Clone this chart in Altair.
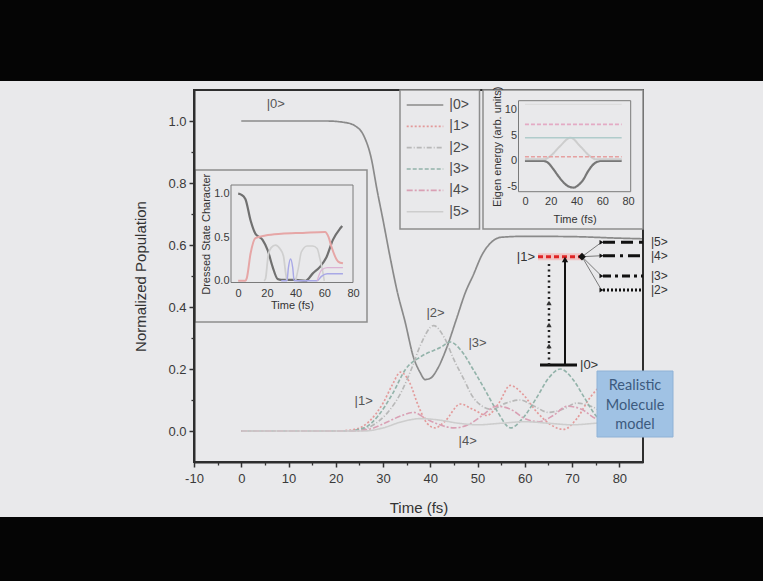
import altair as alt
import pandas as pd

W, H = 763, 581
BG = "#e9e9eb"
FONT = "Liberation Sans"

# ---------------- main chart data ----------------
STATES = ["|0>", "|1>", "|2>", "|3>", "|4>", "|5>"]
STATE_COLORS = ["#8a8a8a", "#e39a9a", "#b8b8b8", "#93b3aa", "#d9a0b4", "#cdcdcd"]
STATE_DASH = [[1, 0], [2, 2], [5, 2, 1, 2], [4, 2], [6, 2, 2, 2], [1, 0]]
STATE_WIDTH = [1.7, 1.6, 1.3, 1.5, 1.3, 1.2]

T0 = [0, 18, 22, 24, 26, 27.5, 28.7, 30, 31.5, 33, 34.7, 36.4, 37.8, 38.9, 40, 41.5, 43.5, 45.5, 47.5, 49, 51, 53, 55, 60, 70, 80, 85]
P0 = [1.0, 1.0, 0.995, 0.985, 0.95, 0.88, 0.78, 0.68, 0.56, 0.45, 0.35, 0.24, 0.19, 0.166, 0.17, 0.2, 0.27, 0.36, 0.45, 0.5, 0.57, 0.61, 0.625, 0.628, 0.627, 0.622, 0.62]

T1 = [0, 20, 24, 27, 30, 32, 33.7, 35.5, 37.5, 39.3, 41, 43, 46.4, 49, 52, 54.5, 56.9, 59.5, 62.6, 65.5, 68.2, 71, 73.9, 77, 80]
P1 = [0, 0, 0.005, 0.03, 0.09, 0.15, 0.19, 0.16, 0.08, 0.025, 0.01, 0.03, 0.087, 0.07, 0.05, 0.09, 0.147, 0.12, 0.06, 0.02, 0.005, 0.04, 0.11, 0.15, 0.13]

T2 = [0, 24, 28, 31, 34, 36, 38, 40.7, 43, 45, 47, 49, 51, 53, 56, 59, 62, 65, 68, 71, 74, 77, 80]
P2 = [0, 0, 0.02, 0.06, 0.13, 0.2, 0.28, 0.34, 0.3, 0.23, 0.17, 0.11, 0.08, 0.07, 0.09, 0.1, 0.08, 0.06, 0.07, 0.09, 0.08, 0.06, 0.06]

T3 = [0, 22, 26, 29, 32, 34.8, 38, 42.2, 44.2, 46.5, 49, 51.3, 54.1, 57, 59.5, 62.6, 65, 67.5, 70, 72.5, 75, 78, 80]
P3 = [0, 0, 0.01, 0.05, 0.12, 0.2, 0.24, 0.27, 0.287, 0.26, 0.2, 0.14, 0.065, 0.01, 0.04, 0.11, 0.17, 0.2, 0.17, 0.11, 0.05, 0.02, 0.03]

T4 = [0, 24, 28, 31, 34, 36.5, 39, 42, 45, 48, 51, 54, 57, 60, 63, 66, 69, 72, 75, 78, 80]
P4 = [0, 0, 0.01, 0.03, 0.05, 0.06, 0.04, 0.02, 0.01, 0.02, 0.05, 0.08, 0.07, 0.04, 0.03, 0.05, 0.08, 0.07, 0.04, 0.03, 0.04]

T5 = [0, 26, 30, 34, 38, 42, 46, 50, 55, 60, 65, 70, 75, 80]
P5 = [0, 0, 0.01, 0.03, 0.04, 0.035, 0.025, 0.02, 0.025, 0.03, 0.025, 0.02, 0.025, 0.03]

MAIN_LABELS = ["|0>", "|1>", "|2>", "|3>", "|4>"]
MAIN_LABEL_T = [7.3, 25.9, 41.1, 50.0, 47.9]
MAIN_LABEL_P = [1.054, 0.098, 0.38, 0.285, -0.032]

# ---------------- inset 1: dressed state character ----------------
DS_SERIES = ["d0", "d1", "d2", "d3", "d4", "d5"]
DS_COLORS = ["#707070", "#e6a6a6", "#cfcfcf", "#cfcfcf", "#a8a8e6", "#dbb2d4"]
DS_WIDTH = [2.2, 1.2, 1.2, 1.2, 1.2, 1.0]
DS_T = [
    [0, 2, 5, 8.7, 12, 17, 20.6, 24, 27.5, 30, 40, 47, 52, 57, 61.5, 66, 71, 72.5],
    [0, 5, 6, 8.6, 12, 19, 30, 45, 60.5, 63, 65, 69.7, 73],
    [18, 19, 21, 23, 26, 29, 31.6, 33, 34],
    [40, 42, 44, 48, 52, 55, 57, 59, 60],
    [30, 34, 35, 36.5, 38, 39, 55, 58, 62, 73],
    [55, 58, 62, 73],
]
DS_V = [
    [1.0, 0.99, 0.94, 0.69, 0.54, 0.47, 0.35, 0.16, 0.02, 0.01, 0.01, 0.0, 0.085, 0.16, 0.27, 0.47, 0.6, 0.63],
    [0, 0, 0.03, 0.31, 0.49, 0.52, 0.54, 0.55, 0.56, 0.5, 0.39, 0.22, 0.2],
    [0, 0.02, 0.3, 0.38, 0.41, 0.37, 0.28, 0.1, 0],
    [0, 0.15, 0.33, 0.4, 0.4, 0.37, 0.25, 0.1, 0],
    [0, 0, 0.15, 0.25, 0.15, 0, 0, 0.05, 0.08, 0.08],
    [0, 0.12, 0.15, 0.15],
]

# ---------------- inset 2: eigen energy ----------------
EE_SERIES = ["e0", "e1", "e2", "e3", "e4", "e5"]
EE_COLORS = ["#777777", "#cdcdcd", "#e4aac4", "#b0cccb", "#e6a0a0", "#dddddd"]
EE_DASH = [[1, 0], [1, 0], [4, 2], [1, 0], [4, 2], [1, 0]]
EE_WIDTH = [2.2, 1.3, 1.2, 1.2, 1.2, 1.0]
EE_T = [
    [0, 14, 18, 22, 26, 29.9, 34, 37.7, 41, 45.4, 48.5, 51.9, 55.8, 60, 75],
    [0, 15, 20, 27, 35.4, 43, 50, 55, 75],
    [0, 75],
    [0, 75],
    [0, 75],
    [0, 75],
]
EE_V = [
    [0, 0, -0.4, -1.6, -3.0, -4.2, -5.0, -5.2, -4.8, -3.6, -2.2, -1.0, -0.2, 0, 0],
    [0.3, 0.3, 1.0, 2.8, 4.5, 2.8, 1.0, 0.3, 0.3],
    [7.1, 7.1],
    [4.5, 4.5],
    [0.8, 0.8],
    [11.0, 11.0],
]

# ---------------- level diagram ----------------
RIGHT_LEVELS = ["|5>", "|4>", "|3>", "|2>"]
RIGHT_E = [1.133, 1.009, 0.822, 0.692]
RIGHT_DASH = [[12, 6], [12, 5, 3, 5], [8, 4, 3, 4], [2, 2]]
PUMP_STEPS = [0.175, 0.369, 0.573]
BOX_LINES = ["Realistic", "Molecule", "model"]

# ---------------- layout (pixels) ----------------
MAIN_BOX = (194, 643, 90, 462)
DS_BOX = (195, 367, 170, 322)
DS_FRAME = (231, 353, 185, 282.5)
LEG_BOX = (400, 479.5, 90, 229)
EE_BOX = (483, 643, 90, 229)
EE_FRAME = (518.5, 630.7, 100.7, 191.7)
BLUE_BOX = (597, 673, 371, 437)
BLUE_TEXT_Y = [386, 405.5, 425]

ONE = pd.DataFrame({"k": [0]})


def rect(box, **style):
    x0, x1, y0, y1 = box
    return alt.Chart(ONE).mark_rect(**style).encode(
        x=alt.value(x0), x2=alt.value(x1), y=alt.value(y0), y2=alt.value(y1))


def long_df(names, ts, vs):
    rows = []
    for n, tt, vv in zip(names, ts, vs):
        for t, v in zip(tt, vv):
            rows.append({"s": n, "t": t, "v": v})
    return pd.DataFrame(rows)


AX = dict(labelFont=FONT, titleFont=FONT, labelColor="#3a3a3a", titleColor="#333333",
          titleFontWeight="normal", grid=False, zindex=1, labelFlush=False, labelOverlap=False)
NEG = "datum.value < 0 ? '-' + abs(datum.value) : '' + datum.value"

# ---------- background bars ----------
bars = alt.layer(
    rect((0, W, 0, 81), fill="#050505"),
    rect((0, W, 517, H), fill="#050505"),
)

# ---------- main panel ----------
mx = alt.Scale(domain=[-10, 85], range=[MAIN_BOX[0], MAIN_BOX[1]], nice=False, zero=False)
my = alt.Scale(domain=[-0.1, 1.1], range=[MAIN_BOX[3], MAIN_BOX[2]], nice=False, zero=False)
color_s = alt.Scale(domain=STATES, range=STATE_COLORS)
dash_s = alt.Scale(domain=STATES, range=STATE_DASH)
width_s = alt.Scale(domain=STATES, range=STATE_WIDTH)

main_df = long_df(STATES, [T0, T1, T2, T3, T4, T5], [P0, P1, P2, P3, P4, P5])

ax_mx = alt.Axis(orient="bottom", offset=MAIN_BOX[3] - H, values=list(range(-10, 90, 10)),
                 labelExpr=NEG, tickSize=5, tickWidth=1.5, tickColor="#333333",
                 domainColor="#2e2e2e", domainWidth=2, labelFontSize=13, labelPadding=5,
                 title="Time (fs)", titleFontSize=15, titleBaseline="middle", titleY=45, **AX)
ax_my = alt.Axis(orient="left", offset=-MAIN_BOX[0], values=[0.0, 0.2, 0.4, 0.6, 0.8, 1.0],
                 format=".1f", tickSize=5, tickWidth=1.5, tickColor="#333333",
                 domainColor="#2e2e2e", domainWidth=2, labelFontSize=13, labelPadding=3,
                 title="Normalized Population", titleFontSize=15, titleBaseline="middle",
                 titleX=140 - MAIN_BOX[0], titleY=276, **AX)
main_lines = alt.Chart(main_df).mark_line(interpolate="monotone").encode(
    x=alt.X("t:Q", scale=mx, axis=ax_mx),
    y=alt.Y("v:Q", scale=my, axis=ax_my),
    color=alt.Color("s:N", scale=color_s, legend=None),
    strokeDash=alt.StrokeDash("s:N", scale=dash_s, legend=None),
    strokeWidth=alt.StrokeWidth("s:N", scale=width_s, legend=None),
)
main_frame = rect(MAIN_BOX, fill=BG, fillOpacity=0, stroke="#2e2e2e", strokeWidth=2)
lab_df = pd.DataFrame({"lab": MAIN_LABELS, "t": MAIN_LABEL_T, "v": MAIN_LABEL_P})
main_labels = alt.Chart(lab_df).mark_text(font=FONT, fontSize=13, color="#555555").encode(
    x=alt.X("t:Q", scale=mx, axis=None), y=alt.Y("v:Q", scale=my, axis=None), text="lab:N")

ax_minor_x = alt.Axis(orient="bottom", offset=MAIN_BOX[3] - H, values=list(range(-5, 80, 10)),
                      labels=False, tickSize=3, tickWidth=1.3, tickColor="#333333",
                      domain=False, title=None, grid=False, zindex=1)
ax_minor_y = alt.Axis(orient="left", offset=-MAIN_BOX[0], values=[0.1, 0.3, 0.5, 0.7, 0.9],
                      labels=False, tickSize=3, tickWidth=1.3, tickColor="#333333",
                      domain=False, title=None, grid=False, zindex=1)
minor = alt.Chart(main_df).mark_point(opacity=0).encode(
    x=alt.X("t:Q", scale=mx, axis=ax_minor_x), y=alt.Y("v:Q", scale=my, axis=ax_minor_y))

# ---------- inset 1 ----------
dsx = alt.Scale(domain=[-5, 80], range=[DS_FRAME[0], DS_FRAME[1]], nice=False, zero=False)
dsy = alt.Scale(domain=[-0.02, 1.1], range=[DS_FRAME[3], DS_FRAME[2]], nice=False, zero=False)
ds_df = long_df(DS_SERIES, DS_T, DS_V)
ax_dsx = alt.Axis(orient="bottom", offset=DS_FRAME[3] - H, values=[0, 20, 40, 60, 80], ticks=False,
                  domain=False, labelFontSize=11, labelPadding=5, title="Time (fs)", titleFontSize=11,
                  titleBaseline="middle", titleY=23, **AX)
ax_dsy = alt.Axis(orient="left", offset=-DS_FRAME[0], values=[0.0, 0.5, 1.0], format=".1f", ticks=False,
                  domain=False, labelFontSize=11, labelPadding=2, title="Dressed State Character",
                  titleFontSize=11, titleBaseline="middle", titleX=206.5 - DS_FRAME[0],
                  titleY=(DS_FRAME[2] + DS_FRAME[3]) / 2, **AX)
ds_lines = alt.Chart(ds_df).mark_line(interpolate="monotone").encode(
    x=alt.X("t:Q", scale=dsx, axis=ax_dsx),
    y=alt.Y("v:Q", scale=dsy, axis=ax_dsy),
    color=alt.Color("s:N", scale=alt.Scale(domain=DS_SERIES, range=DS_COLORS), legend=None),
    strokeWidth=alt.StrokeWidth("s:N", scale=alt.Scale(domain=DS_SERIES, range=DS_WIDTH), legend=None),
)
ds_panel = alt.layer(
    rect(DS_BOX, fill=BG, stroke="#8d8d8d", strokeWidth=1.5),
    rect(DS_FRAME, fill=BG, fillOpacity=0, stroke="#7a7a7a", strokeWidth=1),
    ds_lines,
)

# ---------- legend ----------
leg_y = alt.Scale(type="point", domain=STATES, range=[105, 211.7], padding=0)
leg_df = pd.DataFrame({"s": STATES})
leg_lines = alt.Chart(leg_df).mark_rule().encode(
    x=alt.value(406.7), x2=alt.value(443.3),
    y=alt.Y("s:N", scale=leg_y, axis=None),
    color=alt.Color("s:N", scale=color_s, legend=None),
    strokeDash=alt.StrokeDash("s:N", scale=dash_s, legend=None),
    strokeWidth=alt.StrokeWidth("s:N", scale=width_s, legend=None),
)
leg_text = alt.Chart(leg_df).mark_text(font=FONT, fontSize=14, color="#4a4a4a", align="left",
                                       baseline="middle").encode(
    x=alt.value(449.3), y=alt.Y("s:N", scale=leg_y, axis=None), text="s:N")
legend_box = rect(LEG_BOX, fill=BG, stroke="#8d8d8d", strokeWidth=1.5)

# ---------- inset 2 ----------
eex = alt.Scale(domain=[-5, 82], range=[EE_FRAME[0], EE_FRAME[1]], nice=False, zero=False)
eey = alt.Scale(domain=[-6, 11.7], range=[EE_FRAME[3], EE_FRAME[2]], nice=False, zero=False)
ee_df = long_df(EE_SERIES, EE_T, EE_V)
ax_eex = alt.Axis(orient="bottom", offset=EE_FRAME[3] - H, values=[0, 20, 40, 60, 80], ticks=False,
                  domain=False, labelFontSize=11, labelPadding=4, title="Time (fs)", titleFontSize=11,
                  titleBaseline="middle", titleY=28, **AX)
ax_eey = alt.Axis(orient="left", offset=-EE_FRAME[0], values=[-5, 0, 5, 10], labelExpr=NEG, ticks=False,
                  domain=False, labelFontSize=11, labelPadding=2, title="Eigen energy (arb. units)",
                  titleFontSize=11, titleBaseline="middle", titleX=497 - EE_FRAME[0],
                  titleY=(EE_FRAME[2] + EE_FRAME[3]) / 2, **AX)
ee_lines = alt.Chart(ee_df).mark_line(interpolate="monotone").encode(
    x=alt.X("t:Q", scale=eex, axis=ax_eex),
    y=alt.Y("v:Q", scale=eey, axis=ax_eey),
    color=alt.Color("s:N", scale=alt.Scale(domain=EE_SERIES, range=EE_COLORS), legend=None),
    strokeDash=alt.StrokeDash("s:N", scale=alt.Scale(domain=EE_SERIES, range=EE_DASH), legend=None),
    strokeWidth=alt.StrokeWidth("s:N", scale=alt.Scale(domain=EE_SERIES, range=EE_WIDTH), legend=None),
)
ee_panel = alt.layer(
    rect(EE_BOX, fill=BG, stroke="#8d8d8d", strokeWidth=1.5),
    rect(EE_FRAME, fill=BG, fillOpacity=0, stroke="#7a7a7a", strokeWidth=1),
    ee_lines,
)

# ---------- level diagram ----------
gx = alt.Scale(domain=[0, 100], range=[540, 640], nice=False, zero=False)
gy = alt.Scale(domain=[0, 1], range=[365, 256.7], nice=False, zero=False)

ground_df = pd.DataFrame({"x0": [0], "x1": [37], "e": [0.0]})
exc_df = pd.DataFrame({"x0": [-2], "x1": [42], "e": [1.0]})
right_df = pd.DataFrame({"s": RIGHT_LEVELS, "e": RIGHT_E, "x0": 63, "x1": 103, "xa": 42, "ea": 1.0,
                         "xh": 61.5, "xl": 111})
solid_df = pd.DataFrame({"x": [25], "y0": [0.0], "y1": [0.975]})
dot_df = pd.DataFrame({"x": [9], "y0": [0.0], "y1": [0.965]})
steps_df = pd.DataFrame({"x": 9, "y": PUMP_STEPS})

enc_h = dict(x=alt.X("x0:Q", scale=gx, axis=None), x2="x1:Q", y=alt.Y("e:Q", scale=gy, axis=None))
ground = alt.Chart(ground_df).mark_rule(color="#111111", strokeWidth=3).encode(**enc_h)
exc_glow = alt.Chart(exc_df).mark_rule(color="#f2b4b4", strokeWidth=7, opacity=0.7).encode(**enc_h)
exc = alt.Chart(exc_df).mark_rule(color="#e02525", strokeWidth=3, strokeDash=[5, 3]).encode(**enc_h)
arrows = alt.Chart(right_df).mark_rule(color="#7a7a7a", strokeWidth=1).encode(
    x=alt.X("xa:Q", scale=gx, axis=None), x2="xh:Q",
    y=alt.Y("ea:Q", scale=gy, axis=None), y2="e:Q")
right_lv = alt.Chart(right_df).mark_rule(color="#111111", strokeWidth=3).encode(
    x=alt.X("x0:Q", scale=gx, axis=None), x2="x1:Q",
    y=alt.Y("e:Q", scale=gy, axis=None),
    strokeDash=alt.StrokeDash("s:N", scale=alt.Scale(domain=RIGHT_LEVELS, range=RIGHT_DASH), legend=None))
heads = alt.Chart(right_df).mark_point(shape="triangle-right", filled=True, size=22, color="#111111",
                                      opacity=1).encode(
    x=alt.X("xh:Q", scale=gx, axis=None), y=alt.Y("e:Q", scale=gy, axis=None))
right_lab = alt.Chart(right_df).mark_text(font=FONT, fontSize=12, color="#333333", align="left",
                                          baseline="middle").encode(
    x=alt.X("xl:Q", scale=gx, axis=None), y=alt.Y("e:Q", scale=gy, axis=None), text="s:N")
solid_ar = alt.Chart(solid_df).mark_rule(color="#111111", strokeWidth=2).encode(
    x=alt.X("x:Q", scale=gx, axis=None), y=alt.Y("y0:Q", scale=gy, axis=None), y2="y1:Q")
solid_head = alt.Chart(solid_df).mark_point(shape="triangle-up", filled=True, size=40, color="#111111",
                                           opacity=1).encode(
    x=alt.X("x:Q", scale=gx, axis=None), y=alt.Y("y1:Q", scale=gy, axis=None))
dot_ar = alt.Chart(dot_df).mark_rule(color="#222222", strokeWidth=2.5, strokeDash=[2, 3.5]).encode(
    x=alt.X("x:Q", scale=gx, axis=None), y=alt.Y("y0:Q", scale=gy, axis=None), y2="y1:Q")
dot_heads = alt.Chart(steps_df).mark_point(shape="triangle-up", filled=True, size=28, color="#333333",
                                          opacity=1).encode(
    x=alt.X("x:Q", scale=gx, axis=None), y=alt.Y("y:Q", scale=gy, axis=None))
node = alt.Chart(exc_df).mark_point(shape="diamond", filled=True, size=60, color="#111111",
                                    opacity=1).encode(
    x=alt.X("x1:Q", scale=gx, axis=None), y=alt.Y("e:Q", scale=gy, axis=None))
lab0 = alt.Chart(ground_df).mark_text(text="|0>", font=FONT, fontSize=13, color="#333333", align="left",
                                      baseline="middle", dx=3).encode(
    x=alt.X("x1:Q", scale=gx, axis=None), y=alt.Y("e:Q", scale=gy, axis=None))
lab1 = alt.Chart(exc_df).mark_text(text="|1>", font=FONT, fontSize=13, color="#333333", align="right",
                                   baseline="middle", dx=-3).encode(
    x=alt.X("x0:Q", scale=gx, axis=None), y=alt.Y("e:Q", scale=gy, axis=None))
diagram = alt.layer(right_lv, arrows, heads, right_lab, ground, exc_glow, exc, dot_ar, dot_heads,
                    solid_ar, solid_head, node, lab0, lab1)

# ---------- blue box ----------
blue_box = rect(BLUE_BOX, fill="#a0c2e4", stroke="#8fb2d6", strokeWidth=1)
blue_texts = [
    alt.Chart(ONE).mark_text(text=txt, font="Lato", fontSize=14.5, color="#3c5a7e", align="center",
                             baseline="middle").encode(
        x=alt.value((BLUE_BOX[0] + BLUE_BOX[1]) / 2), y=alt.value(yy))
    for txt, yy in zip(BOX_LINES, BLUE_TEXT_Y)
]

chart = alt.layer(
    bars, main_lines, main_frame, minor, main_labels, ds_panel,
    legend_box, leg_lines, leg_text, ee_panel, diagram, blue_box, *blue_texts
).resolve_scale(
    x="independent", y="independent", color="independent",
    strokeDash="independent", strokeWidth="independent"
).properties(
    width=W, height=H, padding=0, background=BG,
    autosize=alt.AutoSizeParams(type="none"),
).configure_view(stroke=None)

chart.save("out.html", embed_options={"renderer": "svg", "actions": False})
